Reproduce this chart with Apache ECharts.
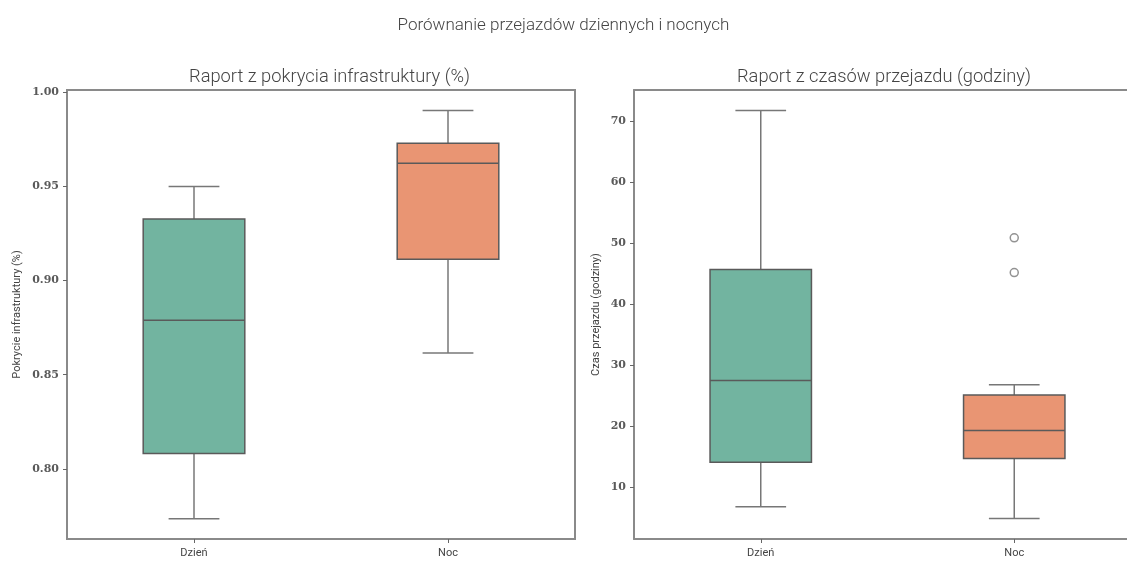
<!DOCTYPE html>
<html>
<head>
<meta charset="utf-8">
<script src="https://cdn.jsdelivr.net/npm/echarts@6/dist/echarts.min.js"></script>
<style>
  html, body { margin: 0; padding: 0; background: #fff; }
  #chart { width: 1127px; height: 561px; }
</style>
</head>
<body>
<div id="chart"></div>
<script>
// Categories shared by both panels
const categories = ['Dzień', 'Noc'];

// Box statistics: [min, Q1, median, Q3, max]
const coverageDay = [0.7735, 0.8081, 0.8790, 0.9327, 0.9500];
const coverageNight = [0.8616, 0.9113, 0.9624, 0.9730, 0.9904];
const travelDay = [6.8, 14.1, 27.5, 45.7, 71.8];
const travelNight = [4.85, 14.7, 19.3, 25.1, 26.8];

// Outliers of travel time at night
const travelNightOutliers = [50.9, 45.2];

// Tick labels on the value axes
const coverageTicks = [0.80, 0.85, 0.90, 0.95, 1.00];
const travelTicks = [10, 20, 30, 40, 50, 60, 70];

const boxColors = ['#72b4a0', '#e99573'];
const lineColor = '#5a5a5a';
const whiskerColor = '#777777';
const frameColor = '#8a8a8a';

function boxData(day, night) {
  return [[0].concat(day), [1].concat(night)];
}

// Box with whiskers; caps are half the box width
function renderBox(params, api) {
  const idx = api.value(0);
  const mn = api.coord([idx, api.value(1)]);
  const q1 = api.coord([idx, api.value(2)]);
  const md = api.coord([idx, api.value(3)]);
  const q3 = api.coord([idx, api.value(4)]);
  const mx = api.coord([idx, api.value(5)]);
  const band = api.size([1, 0])[0];
  const bw = band * 0.4;
  const cw = bw / 2;
  const x = mn[0];
  const wStyle = { stroke: whiskerColor, lineWidth: 1.5 };
  return {
    type: 'group',
    children: [
      { type: 'line', shape: { x1: x, y1: q3[1], x2: x, y2: mx[1] }, style: wStyle },
      { type: 'line', shape: { x1: x, y1: q1[1], x2: x, y2: mn[1] }, style: wStyle },
      { type: 'line', shape: { x1: x - cw / 2, y1: mx[1], x2: x + cw / 2, y2: mx[1] }, style: wStyle },
      { type: 'line', shape: { x1: x - cw / 2, y1: mn[1], x2: x + cw / 2, y2: mn[1] }, style: wStyle },
      { type: 'rect', shape: { x: x - bw / 2, y: q3[1], width: bw, height: q1[1] - q3[1] },
        style: { fill: boxColors[idx], stroke: lineColor, lineWidth: 1.5 } },
      { type: 'line', shape: { x1: x - bw / 2, y1: md[1], x2: x + bw / 2, y2: md[1] },
        style: { stroke: lineColor, lineWidth: 1.5 } }
    ]
  };
}

const sansFont = 'Roboto';
const tickFont = { fontFamily: 'DejaVu Serif', fontWeight: 'bold', fontSize: 11, color: '#5a5a5a' };
const titleStyle = { fontFamily: sansFont, fontWeight: 300, fontSize: 17, color: '#444' };
const subTitleStyle = { fontFamily: sansFont, fontWeight: 300, fontSize: 18.3, color: '#444' };

function xAxisFor(gridIndex) {
  return {
    type: 'category', gridIndex, data: categories,
    axisLine: { show: true, lineStyle: { color: frameColor, width: 2 } },
    axisTick: { show: true, alignWithLabel: true, length: 4, lineStyle: { color: '#666' } },
    axisLabel: { fontFamily: sansFont, fontSize: 11, color: '#444', margin: 9 },
    splitLine: { show: false }
  };
}

// Top edge of a panel frame: an axis with only its line shown
function topEdgeFor(gridIndex) {
  return {
    type: 'category', gridIndex, data: categories, position: 'top',
    axisLine: { show: true, lineStyle: { color: frameColor, width: 2 } },
    axisTick: { show: false }, axisLabel: { show: false }, splitLine: { show: false }
  };
}

function yAxisFor(gridIndex, min, max, ticks, name, decimals, gap) {
  return {
    type: 'value', gridIndex, min, max,
    name, nameLocation: 'middle', nameGap: gap,
    nameTextStyle: { fontFamily: sansFont, fontSize: 11, color: '#444' },
    axisLine: { show: true, lineStyle: { color: frameColor, width: 2 } },
    axisTick: { show: true, length: 4, customValues: ticks, lineStyle: { color: '#666' } },
    axisLabel: Object.assign({ customValues: ticks, margin: 8,
      formatter: v => Number(v).toFixed(decimals) }, tickFont),
    splitLine: { show: false }
  };
}

const chart = echarts.init(document.getElementById('chart'), null, { renderer: 'canvas' });
chart.setOption({
  backgroundColor: '#ffffff',
  animation: false,
  title: [
    { text: 'Porównanie przejazdów dziennych i nocnych', left: 'center', top: 12, textStyle: titleStyle },
    { text: 'Raport z pokrycia infrastruktury (%)', left: 324.5, top: 63, textAlign: 'center', textStyle: subTitleStyle },
    { text: 'Raport z czasów przejazdu (godziny)', left: 879, top: 63, textAlign: 'center', textStyle: subTitleStyle }
  ],
  grid: [
    { left: 67, top: 90, width: 508, height: 449, show: true, borderColor: frameColor, borderWidth: 2,
      outerBoundsMode: 'none' },
    // right panel runs past the page edge, so its frame is drawn by axis lines
    { left: 634, top: 90, width: 507, height: 449, show: false, outerBoundsMode: 'none' }
  ],
  xAxis: [xAxisFor(0), xAxisFor(1), topEdgeFor(1)],
  yAxis: [
    yAxisFor(0, 0.7627, 1.0013, coverageTicks, 'Pokrycie infrastruktury (%)', 2, 44),
    yAxisFor(1, 1.5, 75.15, travelTicks, 'Czas przejazdu (godziny)', 0, 32)
  ],
  series: [
    {
      type: 'custom', xAxisIndex: 0, yAxisIndex: 0,
      renderItem: renderBox,
      encode: { x: 0, y: [1, 2, 3, 4, 5] },
      data: boxData(coverageDay, coverageNight)
    },
    {
      type: 'custom', xAxisIndex: 1, yAxisIndex: 1,
      renderItem: renderBox,
      encode: { x: 0, y: [1, 2, 3, 4, 5] },
      data: boxData(travelDay, travelNight)
    },
    {
      type: 'scatter', xAxisIndex: 1, yAxisIndex: 1,
      symbol: 'circle', symbolSize: 8,
      itemStyle: { color: '#ffffff', borderColor: '#777777', borderWidth: 1.5 },
      data: travelNightOutliers.map(v => [1, v])
    }
  ]
});
</script>
</body>
</html>
